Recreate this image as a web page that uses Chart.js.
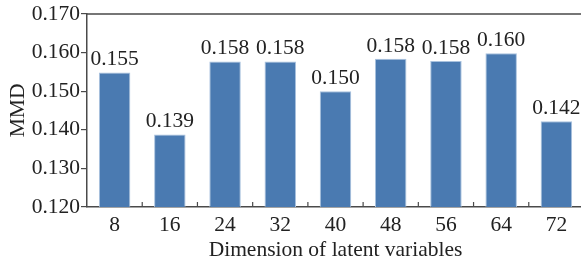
<!DOCTYPE html>
<html>
<head>
<meta charset="utf-8">
<script src="https://cdn.jsdelivr.net/npm/chart.js@4/dist/chart.umd.min.js"></script>
<style>
  html, body { margin: 0; padding: 0; background: #fff; overflow: hidden; }
  #wrap { width: 581px; height: 263px; overflow: hidden; }
</style>
</head>
<body>
<div id="wrap"><canvas id="grafica" width="592" height="263"></canvas></div>
<script>
const dims = ['8', '16', '24', '32', '40', '48', '56', '64', '72'];
const mmd = [0.1548, 0.1388, 0.1577, 0.1577, 0.1500, 0.1584, 0.1578, 0.1598, 0.1422];
const yTicks = [0.120, 0.130, 0.140, 0.150, 0.160, 0.170];

const fuente = 'Liberation Serif';
const tam = 21.5;
const txtColor = '#222';
const ejeColor = '#4a4a4a';

// etiquetas encima de cada barra
const etiquetas = {
  id: 'etiquetas',
  afterDatasetsDraw(chart) {
    const ctx = chart.ctx;
    const meta = chart.getDatasetMeta(0);
    ctx.save();
    ctx.font = tam + 'px "' + fuente + '"';
    ctx.fillStyle = txtColor;
    ctx.textAlign = 'center';
    ctx.textBaseline = 'bottom';
    meta.data.forEach((bar, i) => {
      ctx.fillText(mmd[i].toFixed(3), bar.x, bar.y - 2);
    });
    ctx.restore();
  }
};

// marco superior/derecho y ticks hacia dentro en el eje x
const marco = {
  id: 'marco',
  afterDraw(chart) {
    const ctx = chart.ctx;
    const a = chart.chartArea;
    const x = chart.scales.x;
    ctx.save();
    ctx.strokeStyle = ejeColor;
    ctx.lineWidth = 1.5;
    ctx.beginPath();
    ctx.moveTo(a.left, a.top);
    ctx.lineTo(a.right, a.top);
    ctx.lineTo(a.right, a.bottom);
    ctx.stroke();
    ctx.lineWidth = 1.2;
    ctx.beginPath();
    for (let i = 0; i < dims.length - 1; i++) {
      const px = (x.getPixelForTick(i) + x.getPixelForTick(i + 1)) / 2;
      ctx.moveTo(px, a.bottom);
      ctx.lineTo(px, a.bottom - 5);
    }
    ctx.stroke();
    ctx.restore();
  }
};

new Chart(document.getElementById('grafica').getContext('2d'), {
  type: 'bar',
  data: {
    labels: dims,
    datasets: [{
      data: mmd,
      backgroundColor: '#4a7ab1',
      borderColor: '#a9c2de',
      borderWidth: 1,
      categoryPercentage: 1,
      barPercentage: 0.57
    }]
  },
  options: {
    responsive: false,
    animation: false,
    layout: { padding: { left: 0, right: 8, top: 13, bottom: 0 } },
    plugins: { legend: { display: false }, tooltip: { enabled: false } },
    scales: {
      x: {
        offset: true,
        grid: { display: false, drawTicks: false },
        border: { display: true, color: ejeColor, width: 1.5 },
        ticks: { color: txtColor, font: { family: fuente, size: tam }, padding: 5 },
        title: {
          display: true,
          text: 'Dimension of latent variables',
          color: txtColor,
          font: { family: fuente, size: tam },
          padding: { top: 0, bottom: 0 }
        },
        afterFit: s => { s.height = 56; }
      },
      y: {
        min: 0.12,
        max: 0.17,
        afterBuildTicks: s => { s.ticks = yTicks.map(v => ({ value: v })); },
        grid: { drawOnChartArea: false, drawTicks: true, tickLength: 6, color: ejeColor, lineWidth: 1.2 },
        border: { display: true, color: ejeColor, width: 1.5 },
        ticks: {
          color: txtColor,
          font: { family: fuente, size: tam },
          padding: 1,
          callback: v => v.toFixed(3)
        },
        title: {
          display: true,
          text: 'MMD',
          color: txtColor,
          font: { family: fuente, size: tam },
          padding: { top: 5, bottom: 0 }
        },
        afterFit: s => { s.width = 87; }
      }
    }
  },
  plugins: [etiquetas, marco]
});
</script>
</body>
</html>
